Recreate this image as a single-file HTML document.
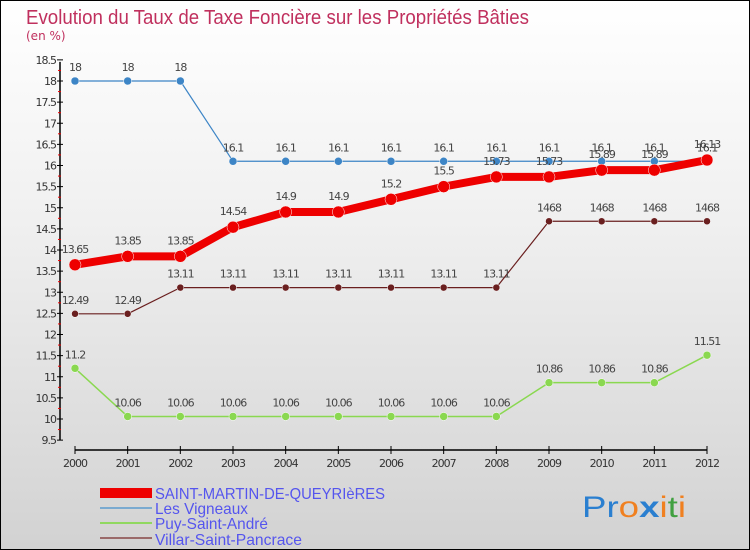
<!DOCTYPE html>
<html><head><meta charset="utf-8"><style>
body{margin:0}
#c{width:750px;height:550px;position:relative;overflow:hidden;background:linear-gradient(#fff 0%,#f0f0f0 40%,#d2d2d2 100%);font-family:"DejaVu Sans","Liberation Sans",sans-serif}
</style></head><body>
<div id="c">
<svg width="750" height="550" id="s">
<rect x="0.5" y="0.5" width="749" height="549" fill="none" stroke="#000"/>
<text x="26" y="24" font-size="20" fill="#c0305e" font-family="Liberation Sans,sans-serif" textLength="503" lengthAdjust="spacingAndGlyphs">Evolution du Taux de Taxe Foncière sur les Propriétés Bâties</text>
<text x="26" y="40" font-size="12" fill="#c0305e">(en %)</text>
<g id="g"></g>
<g font-family="Liberation Sans,sans-serif">
<rect x="100" y="488" width="52" height="10" fill="#e00"/>
<text x="155" y="499" font-size="16" fill="#5555ee" textLength="230" lengthAdjust="spacingAndGlyphs">SAINT-MARTIN-DE-QUEYRIèRES</text>
<line x1="100" y1="508" x2="152" y2="508" stroke="#7aaad0" stroke-width="2"/>
<text x="155" y="514" font-size="16" fill="#5555ee" textLength="93" lengthAdjust="spacingAndGlyphs">Les Vigneaux</text>
<line x1="100" y1="523" x2="152" y2="523" stroke="#90d860" stroke-width="2"/>
<text x="155" y="529" font-size="16" fill="#5555ee" textLength="113" lengthAdjust="spacingAndGlyphs">Puy-Saint-André</text>
<line x1="100" y1="538" x2="152" y2="538" stroke="#9a6a6a" stroke-width="2"/>
<text x="155" y="545" font-size="16" fill="#5555ee" textLength="147" lengthAdjust="spacingAndGlyphs">Villar-Saint-Pancrace</text>
</g>
<text x="582" y="517" font-size="30" font-family="Liberation Sans,sans-serif" textLength="104" lengthAdjust="spacingAndGlyphs"><tspan fill="#2a7fd0">Pr</tspan><tspan fill="#f08020">o</tspan><tspan fill="#2a7fd0" font-weight="bold">x</tspan><tspan fill="#f08020">i</tspan><tspan fill="#40a040">t</tspan><tspan fill="#f08020">i</tspan></text>
</svg>
</div>
<script>
const years=[2000,2001,2002,2003,2004,2005,2006,2007,2008,2009,2010,2011,2012];
const yTicks=[9.5,10,10.5,11,11.5,12,12.5,13,13.5,14,14.5,15,15.5,16,16.5,17,17.5,18,18.5];
const smq=[13.65,13.85,13.85,14.54,14.9,14.9,15.2,15.5,15.73,15.73,15.89,15.89,16.13];
const vig=[18,18,18,16.1,16.1,16.1,16.1,16.1,16.1,16.1,16.1,16.1,16.1];
const puy=[11.2,10.06,10.06,10.06,10.06,10.06,10.06,10.06,10.06,10.86,10.86,10.86,11.51];
const vil=[12.49,12.49,13.11,13.11,13.11,13.11,13.11,13.11,13.11,14.68,14.68,14.68,14.68];
const smqLbl=["13.65","13.85","13.85","14.54","14.9","14.9","15.2","15.5","15.73","15.73","15.89","15.89","16.13"];
const vigLbl=["18","18","18","16.1","16.1","16.1","16.1","16.1","16.1","16.1","16.1","16.1","16.1"];
const puyLbl=["11.2","10.06","10.06","10.06","10.06","10.06","10.06","10.06","10.06","10.86","10.86","10.86","11.51"];
const vilLbl=["12.49","12.49","13.11","13.11","13.11","13.11","13.11","13.11","13.11","1468","1468","1468","1468"];
const NS="http://www.w3.org/2000/svg";
const g=document.getElementById('g');
const X=i=>75+i*(707-75)/12;
const Y=v=>419-(v-10)*42.25;
function el(t,a,name){const e=document.createElementNS(NS,t);for(const k in a)e.setAttribute(k,a[k]);


g.appendChild(e);return e;}
el('line',{x1:60,y1:Y(9.5),x2:60,y2:Y(18.5)+2,stroke:'#000','stroke-width':1.5},'y-axis');
yTicks.forEach((v,i)=>{el('line',{x1:57,y1:Y(v),x2:63,y2:Y(v),stroke:'#000'},'y-tick');
const t=el('text',{x:56,y:Y(v)+4,'font-size':11,'text-anchor':'end',fill:'#333','letter-spacing':'-1'},'y-tick-label');t.textContent=v;
if(i<yTicks.length-1)el('line',{x1:58,y1:Y(v+0.25),x2:61,y2:Y(v+0.25),stroke:'#e00'},'y-minor-tick');});
el('line',{x1:75,y1:450,x2:707,y2:450,stroke:'#000','stroke-width':1.5},'x-axis');
years.forEach((y,i)=>{el('line',{x1:X(i),y1:446,x2:X(i),y2:454,stroke:'#000'},'x-tick');
const t=el('text',{x:X(i),y:467,'font-size':11,'text-anchor':'middle',fill:'#333','letter-spacing':'-1'},'x-tick-label');t.textContent=y;});
function series(d,l,col,w,r,name,dy){
el('polyline',{points:d.map((v,i)=>X(i)+','+Y(v)).join(' '),fill:'none',stroke:col,'stroke-width':w,'stroke-linejoin':'round'},name+'-line');
d.forEach((v,i)=>{el('circle',{cx:X(i),cy:Y(v),r:r,fill:col,stroke:'#fff','stroke-width':0.5},name+'-point');
const t=el('text',{x:X(i),y:Y(v)+dy,'font-size':11,'text-anchor':'middle',fill:'#444','letter-spacing':'-1'},name+'-value');t.textContent=l[i];});}
series(vig,vigLbl,'#3d85c6',1.2,4,'vigneaux',-10);
series(puy,puyLbl,'#8ad850',1.5,4,'puy',-10);
series(vil,vilLbl,'#6a1f1f',1.2,3.5,'villar',-10);
series(smq,smqLbl,'#ee0000',8,6,'saint-martin',-12);
</script>
</body></html>
